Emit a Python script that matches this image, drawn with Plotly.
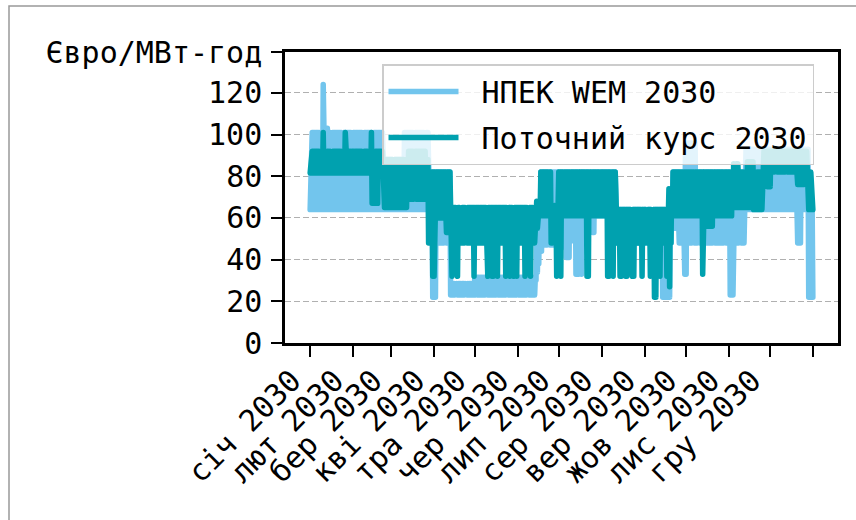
import datetime as dt
import plotly.graph_objects as go

# Month ticks (Jan 2030 .. Jan 2031) and their labels
MONTH_TICKS = ["2030-01-01", "2030-02-01", "2030-03-01", "2030-04-01", "2030-05-01",
               "2030-06-01", "2030-07-01", "2030-08-01", "2030-09-01", "2030-10-01",
               "2030-11-01", "2030-12-01", "2031-01-01"]
MONTH_LABELS = ["січ 2030", "лют 2030", "бер 2030", "кві 2030", "тра 2030", "чер 2030",
                "лип 2030", "сер 2030", "вер 2030", "жов 2030", "лис 2030", "гру 2030", ""]

Y_TICKS = [0, 20, 40, 60, 80, 100, 120]
Y_TOP = 139.6
Y_UNIT = "Євро/МВт-год"

# Daily price ranges, run-length encoded: a run starts on day START (0 = 1 Jan)
# and lasts until the next start; every day of the run swings between LOW and HIGH.
NPEK_NAME = "НПЕК WEM 2030"
NPEK_START = [0, 9, 10, 11, 13, 53, 68, 86, 89, 92, 102, 119, 164, 165, 166, 167, 169,
              182, 186, 189, 193, 198, 205, 207, 223, 256, 262, 263, 268, 272, 274, 280,
              305, 308, 316, 354, 357, 362]
NPEK_LOW = [64, 64, 66, 64, 64, 64, 64, 60, 22, 48, 23, 23, 30, 34, 38, 44, 47,
            46, 41, 49, 33, 61, 53, 61, 48, 22, 48, 55, 48, 33, 48, 48,
            23, 48, 64, 48, 64, 22]
NPEK_HIGH = [101, 124, 106, 103, 101, 88, 101, 82, 82, 82, 28.5, 31.5, 60, 62, 64, 82, 82,
             82, 82, 82, 82, 82, 82, 82, 64, 64, 74, 82, 82, 96, 96, 82,
             82, 82, 93, 93, 93, 64]
NPEK_LAST = 22

CUR_NAME = "Поточний курс 2030"
CUR_START = [0, 9, 10, 25, 26, 44, 45, 50, 53, 71, 84, 86, 89, 92, 99, 101,
             103, 104, 107, 108, 119, 120, 129, 130, 132, 134, 136, 137, 142, 143,
             145, 146, 148, 149, 150, 151, 156, 157, 160, 161,
             164, 167, 175, 179, 180, 182, 183, 201, 203, 216, 218, 220, 221,
             223, 225, 227, 229, 231, 234, 236, 241, 242, 247, 248, 250, 252, 254, 255,
             259, 260, 261, 262, 263, 285, 287, 293, 307, 311, 317, 322,
             329, 332, 335, 354, 359, 362]
CUR_LOW = [81.5, 81.5, 81.5, 81.5, 81.5, 81.5, 67, 81.5, 65, 69, 74, 48, 32, 60, 53, 60,
           32, 48, 32, 48, 32, 48, 32, 48, 32, 48, 32, 48, 32, 48,
           32, 48, 32, 48, 32, 48, 32, 48, 32, 48,
           55, 61, 48, 32, 61, 32, 61, 32, 61, 32, 61, 32, 61,
           48, 32, 48, 32, 48, 32, 48, 32, 48, 32, 48, 22, 48, 32, 48,
           32, 48, 27, 48, 61, 33, 56, 61, 65, 65, 65, 64,
           82, 75, 82, 76, 82, 64]
CUR_HIGH = [92, 101, 92, 101, 92, 101, 92, 92, 88, 92, 88, 82, 82, 82, 82, 82,
            65, 65, 65, 65, 65, 65, 65, 65, 65, 65, 65, 65, 65, 65,
            65, 65, 65, 65, 65, 65, 65, 65, 65, 65,
            68, 82, 66, 66, 82, 82, 82, 82, 82, 82, 82, 82, 82,
            64, 64, 64, 64, 64, 64, 64, 64, 64, 64, 64, 64, 64, 64, 64,
            64, 74, 74, 74, 82, 82, 82, 82, 86, 82, 87, 82,
            92, 92, 92, 92, 92, 82]
CUR_LAST = 64

YEAR_START = dt.datetime(2030, 1, 1)
YEAR_DAYS = 365


def expand(starts, lows, highs, last):
    """Turn the run table into a line that swings low/high within each day."""
    xs, ys = [], []
    bounds = list(starts) + [YEAR_DAYS]
    for i in range(len(starts)):
        for d in range(bounds[i], bounds[i + 1]):
            xs += [YEAR_START + dt.timedelta(days=d), YEAR_START + dt.timedelta(days=d + 0.5)]
            ys += [lows[i], highs[i]]
    xs.append(YEAR_START + dt.timedelta(days=YEAR_DAYS))
    ys.append(last)
    return xs, ys


FONT = "DejaVu Sans Mono"
C_NPEK = "#72C5ED"
C_CUR = "#00A1AF"
NBSP = "\u00a0"

fig = go.Figure()
for name, st, lo, hi, last, col, grp in [
    (NPEK_NAME, NPEK_START, NPEK_LOW, NPEK_HIGH, NPEK_LAST, C_NPEK, "a"),
    (CUR_NAME, CUR_START, CUR_LOW, CUR_HIGH, CUR_LAST, C_CUR, "b"),
]:
    x, y = expand(st, lo, hi, last)
    fig.add_trace(go.Scatter(x=x, y=y, mode="lines", name=NBSP + name, legendgroup=grp,
                             line=dict(color=col, width=5.5), hoverinfo="skip"))

L, R, T, B = 285, 18, 52, 177
W, H = 856, 520
pw, ph = W - L - R, H - T - B

fig.update_layout(
    width=W, height=H,
    margin=dict(l=L, r=R, t=T, b=B, pad=0),
    paper_bgcolor="white", plot_bgcolor="white",
    font=dict(family=FONT, size=30, color="black"),
    showlegend=True,
    legend=dict(
        x=(382 - L) / pw, y=(H - B - 64) / ph, xanchor="left", yanchor="top",
        bgcolor="rgba(255,255,255,0.8)", bordercolor="#cccccc", borderwidth=1.5,
        font=dict(family=FONT, size=30, color="black"),
        itemwidth=70, tracegroupgap=4,
    ),
    xaxis=dict(
        type="date",
        range=[YEAR_START - dt.timedelta(days=18.25), YEAR_START + dt.timedelta(days=YEAR_DAYS + 18.25)],
        tickvals=MONTH_TICKS, ticktext=MONTH_LABELS, tickangle=-45,
        ticks="outside", ticklen=11, tickwidth=2, tickcolor="black",
        ticklabelshift=-18, ticklabelstandoff=-6,
        showline=True, linecolor="black", linewidth=2.5, mirror=True,
        showgrid=False, zeroline=False,
        tickfont=dict(family=FONT, size=30, color="black"),
    ),
    yaxis=dict(
        range=[0, Y_TOP],
        tickvals=Y_TICKS + [Y_TOP], ticktext=[str(v) for v in Y_TICKS] + [Y_UNIT],
        ticks="outside", ticklen=11, tickwidth=2, tickcolor="black",
        ticklabelstandoff=3,
        showline=True, linecolor="black", linewidth=2.5, mirror=True,
        showgrid=True, gridcolor="#b0b0b0", gridwidth=1, griddash="6px,3px",
        zeroline=False,
        tickfont=dict(family=FONT, size=30, color="black"),
    ),
    shapes=[dict(type="rect", xref="paper", yref="paper",
                 x0=(9 - L) / pw, x1=(W + 20 - L) / pw,
                 y0=(H - B - (H + 20)) / ph, y1=(H - B - 6) / ph,
                 line=dict(color="#999999", width=1.5), fillcolor="rgba(0,0,0,0)",
                 layer="below")],
)

round_joins = ("document.querySelectorAll('.scatterlayer .js-line').forEach(function(p){"
               "p.style.strokeLinejoin='round';p.style.strokeLinecap='round';});")
fig.write_html("out.html", post_script=round_joins)
